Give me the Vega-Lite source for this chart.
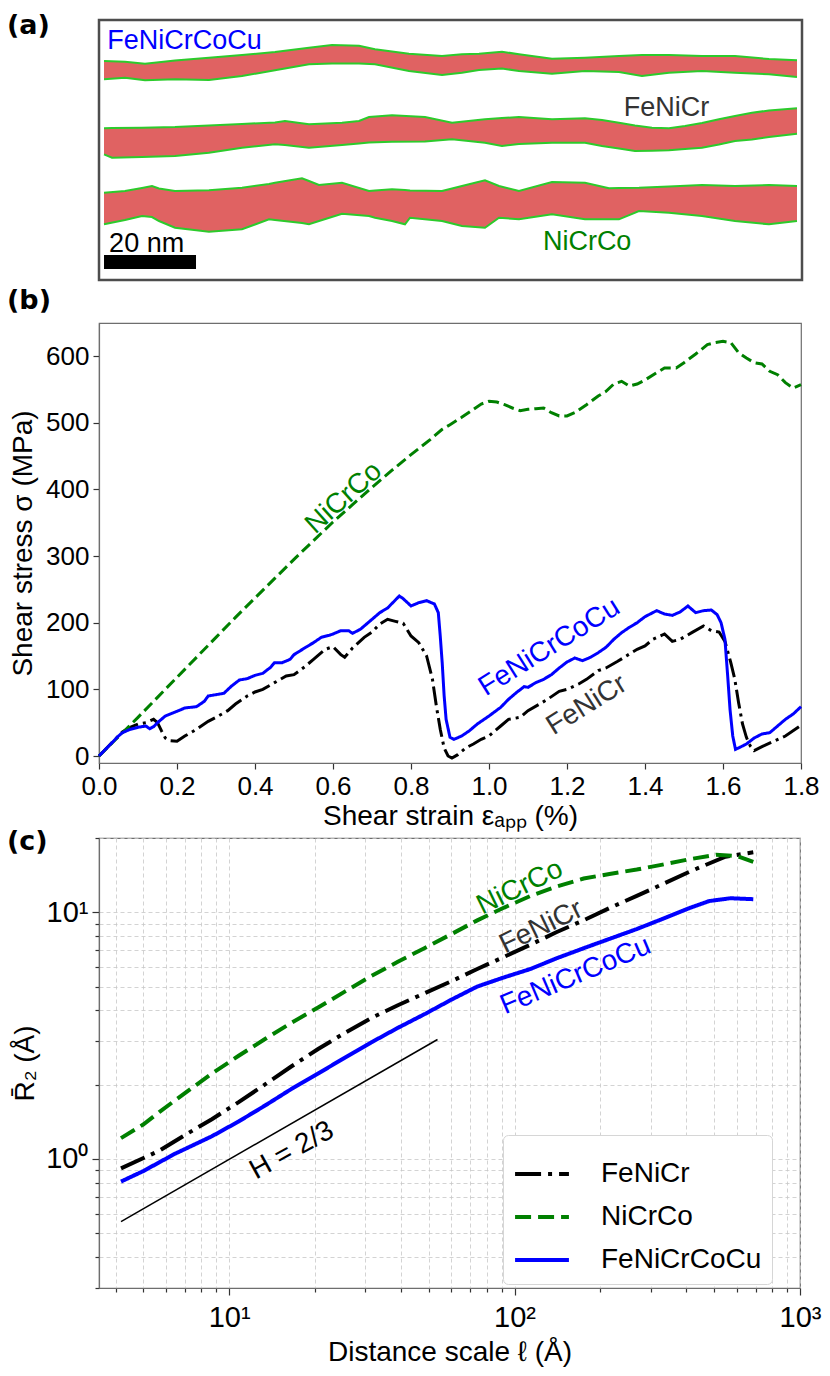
{
  "$schema": "https://vega.github.io/schema/vega-lite/v6.json",
  "background": "white",
  "padding": {"left": 5, "top": 10, "right": 5, "bottom": 5},
  "spacing": 4,
  "config": {
    "font": "Liberation Sans",
    "view": {"stroke": "#6e6e6e", "strokeWidth": 1.2},
    "axis": {"domainColor": "#6e6e6e", "domainWidth": 1.2, "tickColor": "#333333", "tickWidth": 1.2, "labelColor": "#000000", "titleColor": "#000000", "labelFont": "Liberation Sans", "titleFont": "Liberation Sans", "titleFontWeight": "normal", "labelFontSize": 26, "titleFontSize": 28, "grid": false}
  },
  "resolve": {"scale": {"color": "independent", "strokeDash": "independent", "fill": "independent"}},
  "vconcat": [
    {
      "width": 703,
      "height": 260,
      "view": {"stroke": "#4d4d4d", "strokeWidth": 2.5},
      "data": {"values": [
        {"band": "FeNiCrCoCu", "x": 1.09, "top": 8.91, "bot": 12.89},
        {"band": "FeNiCrCoCu", "x": 5.65, "top": 9.07, "bot": 12.54},
        {"band": "FeNiCrCoCu", "x": 10.0, "top": 9.5, "bot": 13.11},
        {"band": "FeNiCrCoCu", "x": 16.52, "top": 8.8, "bot": 12.89},
        {"band": "FeNiCrCoCu", "x": 23.91, "top": 8.2, "bot": 13.04},
        {"band": "FeNiCrCoCu", "x": 31.09, "top": 7.61, "bot": 12.17},
        {"band": "FeNiCrCoCu", "x": 38.26, "top": 6.96, "bot": 10.93},
        {"band": "FeNiCrCoCu", "x": 45.65, "top": 6.02, "bot": 9.63},
        {"band": "FeNiCrCoCu", "x": 50.65, "top": 5.43, "bot": 9.46},
        {"band": "FeNiCrCoCu", "x": 56.52, "top": 5.59, "bot": 9.46},
        {"band": "FeNiCrCoCu", "x": 60.0, "top": 6.37, "bot": 9.63},
        {"band": "FeNiCrCoCu", "x": 67.39, "top": 7.33, "bot": 11.09},
        {"band": "FeNiCrCoCu", "x": 74.57, "top": 7.83, "bot": 11.96},
        {"band": "FeNiCrCoCu", "x": 78.91, "top": 7.46, "bot": 11.46},
        {"band": "FeNiCrCoCu", "x": 82.61, "top": 7.33, "bot": 10.87},
        {"band": "FeNiCrCoCu", "x": 87.61, "top": 6.89, "bot": 10.54},
        {"band": "FeNiCrCoCu", "x": 91.3, "top": 7.46, "bot": 11.09},
        {"band": "FeNiCrCoCu", "x": 98.48, "top": 8.41, "bot": 11.67},
        {"band": "FeNiCrCoCu", "x": 105.65, "top": 8.2, "bot": 11.09},
        {"band": "FeNiCrCoCu", "x": 113.04, "top": 7.83, "bot": 11.3},
        {"band": "FeNiCrCoCu", "x": 118.04, "top": 7.61, "bot": 12.17},
        {"band": "FeNiCrCoCu", "x": 123.91, "top": 7.61, "bot": 11.46},
        {"band": "FeNiCrCoCu", "x": 131.09, "top": 7.83, "bot": 11.09},
        {"band": "FeNiCrCoCu", "x": 138.26, "top": 7.83, "bot": 11.46},
        {"band": "FeNiCrCoCu", "x": 145.65, "top": 8.48, "bot": 11.8},
        {"band": "FeNiCrCoCu", "x": 151.74, "top": 8.76, "bot": 12.39},
        {"band": "FeNiCr", "x": 1.09, "top": 23.54, "bot": 29.2},
        {"band": "FeNiCr", "x": 2.83, "top": 23.48, "bot": 29.93},
        {"band": "FeNiCr", "x": 9.35, "top": 23.41, "bot": 29.78},
        {"band": "FeNiCr", "x": 16.52, "top": 23.26, "bot": 29.57},
        {"band": "FeNiCr", "x": 23.91, "top": 22.93, "bot": 28.85},
        {"band": "FeNiCr", "x": 31.09, "top": 22.61, "bot": 27.76},
        {"band": "FeNiCr", "x": 38.26, "top": 22.28, "bot": 27.02},
        {"band": "FeNiCr", "x": 40.43, "top": 21.96, "bot": 27.17},
        {"band": "FeNiCr", "x": 45.65, "top": 22.67, "bot": 27.76},
        {"band": "FeNiCr", "x": 52.83, "top": 22.33, "bot": 27.17},
        {"band": "FeNiCr", "x": 56.52, "top": 21.96, "bot": 26.85},
        {"band": "FeNiCr", "x": 58.7, "top": 21.09, "bot": 26.63},
        {"band": "FeNiCr", "x": 63.7, "top": 20.72, "bot": 26.46},
        {"band": "FeNiCr", "x": 70.87, "top": 21.09, "bot": 26.41},
        {"band": "FeNiCr", "x": 76.74, "top": 22.33, "bot": 25.93},
        {"band": "FeNiCr", "x": 83.91, "top": 21.59, "bot": 26.67},
        {"band": "FeNiCr", "x": 87.61, "top": 21.3, "bot": 27.39},
        {"band": "FeNiCr", "x": 91.3, "top": 21.09, "bot": 26.96},
        {"band": "FeNiCr", "x": 98.48, "top": 21.59, "bot": 26.67},
        {"band": "FeNiCr", "x": 105.65, "top": 21.37, "bot": 26.67},
        {"band": "FeNiCr", "x": 109.35, "top": 21.74, "bot": 27.39},
        {"band": "FeNiCr", "x": 113.04, "top": 22.33, "bot": 27.93},
        {"band": "FeNiCr", "x": 116.52, "top": 22.93, "bot": 28.48},
        {"band": "FeNiCr", "x": 120.22, "top": 23.41, "bot": 28.41},
        {"band": "FeNiCr", "x": 123.91, "top": 23.54, "bot": 28.33},
        {"band": "FeNiCr", "x": 127.39, "top": 23.04, "bot": 28.04},
        {"band": "FeNiCr", "x": 131.09, "top": 22.39, "bot": 27.76},
        {"band": "FeNiCr", "x": 134.78, "top": 21.59, "bot": 27.07},
        {"band": "FeNiCr", "x": 138.26, "top": 20.87, "bot": 26.3},
        {"band": "FeNiCr", "x": 141.96, "top": 20.15, "bot": 25.98},
        {"band": "FeNiCr", "x": 145.65, "top": 19.67, "bot": 25.43},
        {"band": "FeNiCr", "x": 151.74, "top": 19.2, "bot": 24.72},
        {"band": "NiCrCo", "x": 1.09, "top": 37.54, "bot": 44.41},
        {"band": "NiCrCo", "x": 5.65, "top": 37.17, "bot": 43.48},
        {"band": "NiCrCo", "x": 9.35, "top": 36.52, "bot": 42.61},
        {"band": "NiCrCo", "x": 11.52, "top": 36.09, "bot": 42.83},
        {"band": "NiCrCo", "x": 13.04, "top": 36.63, "bot": 43.7},
        {"band": "NiCrCo", "x": 16.52, "top": 37.17, "bot": 45.15},
        {"band": "NiCrCo", "x": 23.91, "top": 37.02, "bot": 46.02},
        {"band": "NiCrCo", "x": 31.09, "top": 36.46, "bot": 45.5},
        {"band": "NiCrCo", "x": 36.96, "top": 35.65, "bot": 43.33},
        {"band": "NiCrCo", "x": 38.26, "top": 35.37, "bot": 43.48},
        {"band": "NiCrCo", "x": 44.13, "top": 34.41, "bot": 44.13},
        {"band": "NiCrCo", "x": 45.65, "top": 35.0, "bot": 44.41},
        {"band": "NiCrCo", "x": 47.83, "top": 35.87, "bot": 43.7},
        {"band": "NiCrCo", "x": 52.83, "top": 35.37, "bot": 42.11},
        {"band": "NiCrCo", "x": 58.7, "top": 37.17, "bot": 42.61},
        {"band": "NiCrCo", "x": 60.0, "top": 37.07, "bot": 42.98},
        {"band": "NiCrCo", "x": 63.7, "top": 36.8, "bot": 43.7},
        {"band": "NiCrCo", "x": 66.52, "top": 36.96, "bot": 44.41},
        {"band": "NiCrCo", "x": 67.61, "top": 37.07, "bot": 42.98},
        {"band": "NiCrCo", "x": 74.57, "top": 37.17, "bot": 43.7},
        {"band": "NiCrCo", "x": 78.91, "top": 36.09, "bot": 44.78},
        {"band": "NiCrCo", "x": 83.91, "top": 34.85, "bot": 45.15},
        {"band": "NiCrCo", "x": 86.96, "top": 36.09, "bot": 42.98},
        {"band": "NiCrCo", "x": 91.3, "top": 37.17, "bot": 43.33},
        {"band": "NiCrCo", "x": 98.48, "top": 35.22, "bot": 42.24},
        {"band": "NiCrCo", "x": 105.65, "top": 35.37, "bot": 43.33},
        {"band": "NiCrCo", "x": 110.87, "top": 36.59, "bot": 43.33},
        {"band": "NiCrCo", "x": 113.04, "top": 36.52, "bot": 43.33},
        {"band": "NiCrCo", "x": 117.39, "top": 36.46, "bot": 41.52},
        {"band": "NiCrCo", "x": 123.91, "top": 36.2, "bot": 41.89},
        {"band": "NiCrCo", "x": 131.09, "top": 35.87, "bot": 42.61},
        {"band": "NiCrCo", "x": 138.26, "top": 36.09, "bot": 43.7},
        {"band": "NiCrCo", "x": 145.65, "top": 35.87, "bot": 44.41},
        {"band": "NiCrCo", "x": 151.74, "top": 36.09, "bot": 43.7}
      ]},
      "layer": [
        {
          "mark": {"type": "area", "color": "#e06262", "opacity": 1},
          "encoding": {
            "x": {"field": "x", "type": "quantitative", "scale": {"domain": [0, 152.83], "nice": false, "zero": false}, "axis": null},
            "y": {"field": "top", "type": "quantitative", "scale": {"domain": [0, 56.52], "reverse": true, "nice": false, "zero": false}, "axis": null},
            "y2": {"field": "bot"},
            "detail": {"field": "band"}
          }
        },
        {
          "mark": {"type": "line", "color": "#2ccb2c", "strokeWidth": 2},
          "encoding": {
            "x": {"field": "x", "type": "quantitative"},
            "y": {"field": "top", "type": "quantitative"},
            "detail": {"field": "band"}
          }
        },
        {
          "mark": {"type": "line", "color": "#2ccb2c", "strokeWidth": 2},
          "encoding": {
            "x": {"field": "x", "type": "quantitative"},
            "y": {"field": "bot", "type": "quantitative"},
            "detail": {"field": "band"}
          }
        },
        {
          "data": {"values": [{"x0": 1.09, "x1": 21.09, "d0": 51.09, "d1": 54.13}]},
          "mark": {"type": "rect", "color": "#000000"},
          "encoding": {
            "x": {"field": "x0", "type": "quantitative"},
            "x2": {"field": "x1"},
            "y": {"field": "d0", "type": "quantitative"},
            "y2": {"field": "d1"}
          }
        },
        {
          "data": {"values": [{"label": "20 nm", "x": 2.2, "y": 50.4}]},
          "mark": {"type": "text", "align": "left", "baseline": "alphabetic", "fontSize": 27, "color": "#000000"},
          "encoding": {
            "x": {"field": "x", "type": "quantitative"},
            "y": {"field": "y", "type": "quantitative"},
            "text": {"field": "label"}
          }
        },
        {
          "data": {"values": [{"label": "(a)", "x": -20.0, "y": 3.04}]},
          "mark": {"type": "text", "align": "left", "baseline": "alphabetic", "fontSize": 27, "font": "DejaVu Sans", "fontWeight": "bold", "color": "#000000"},
          "encoding": {
            "x": {"field": "x", "type": "quantitative"},
            "y": {"field": "y", "type": "quantitative"},
            "text": {"field": "label"}
          }
        },
        {
          "data": {"values": [
            {"label": "FeNiCrCoCu", "x": 1.8, "y": 6.3},
            {"label": "FeNiCr", "x": 114.1, "y": 20.87},
            {"label": "NiCrCo", "x": 96.5, "y": 50.0}
          ]},
          "mark": {"type": "text", "align": "left", "baseline": "alphabetic", "fontSize": 27},
          "encoding": {
            "x": {"field": "x", "type": "quantitative"},
            "y": {"field": "y", "type": "quantitative"},
            "text": {"field": "label"},
            "fill": {"field": "label", "type": "nominal", "scale": {"domain": ["FeNiCr", "NiCrCo", "FeNiCrCoCu"], "range": ["#333333", "#008000", "#0000ff"]}, "legend": null}
          }
        }
      ]
    },
    {
      "spacing": -8,
      "resolve": {"scale": {"color": "independent", "strokeDash": "independent", "fill": "independent"}},
      "vconcat": [
        {
          "width": 702,
          "height": 440,
          "layer": [
            {
              "data": {"values": [
                {"series": "FeNiCr", "strain": 0, "stress": 0},
                {"series": "FeNiCr", "strain": 0.02, "stress": 12},
                {"series": "FeNiCr", "strain": 0.04, "stress": 24},
                {"series": "FeNiCr", "strain": 0.05, "stress": 30},
                {"series": "FeNiCr", "strain": 0.06, "stress": 36},
                {"series": "FeNiCr", "strain": 0.08, "stress": 43},
                {"series": "FeNiCr", "strain": 0.1, "stress": 48},
                {"series": "FeNiCr", "strain": 0.12, "stress": 50},
                {"series": "FeNiCr", "strain": 0.14, "stress": 55},
                {"series": "FeNiCr", "strain": 0.15, "stress": 50},
                {"series": "FeNiCr", "strain": 0.16, "stress": 38},
                {"series": "FeNiCr", "strain": 0.17, "stress": 27},
                {"series": "FeNiCr", "strain": 0.18, "stress": 23},
                {"series": "FeNiCr", "strain": 0.2, "stress": 22},
                {"series": "FeNiCr", "strain": 0.22, "stress": 30},
                {"series": "FeNiCr", "strain": 0.25, "stress": 40},
                {"series": "FeNiCr", "strain": 0.28, "stress": 52},
                {"series": "FeNiCr", "strain": 0.3, "stress": 58},
                {"series": "FeNiCr", "strain": 0.33, "stress": 68},
                {"series": "FeNiCr", "strain": 0.35, "stress": 78},
                {"series": "FeNiCr", "strain": 0.38, "stress": 90},
                {"series": "FeNiCr", "strain": 0.4, "stress": 96},
                {"series": "FeNiCr", "strain": 0.42, "stress": 100},
                {"series": "FeNiCr", "strain": 0.45, "stress": 110},
                {"series": "FeNiCr", "strain": 0.48, "stress": 120},
                {"series": "FeNiCr", "strain": 0.5, "stress": 122},
                {"series": "FeNiCr", "strain": 0.53, "stress": 135},
                {"series": "FeNiCr", "strain": 0.55, "stress": 145},
                {"series": "FeNiCr", "strain": 0.58, "stress": 160},
                {"series": "FeNiCr", "strain": 0.6, "stress": 164},
                {"series": "FeNiCr", "strain": 0.62, "stress": 152},
                {"series": "FeNiCr", "strain": 0.63, "stress": 148},
                {"series": "FeNiCr", "strain": 0.65, "stress": 162},
                {"series": "FeNiCr", "strain": 0.68, "stress": 178},
                {"series": "FeNiCr", "strain": 0.7, "stress": 186},
                {"series": "FeNiCr", "strain": 0.72, "stress": 198},
                {"series": "FeNiCr", "strain": 0.74, "stress": 205},
                {"series": "FeNiCr", "strain": 0.76, "stress": 202},
                {"series": "FeNiCr", "strain": 0.78, "stress": 199},
                {"series": "FeNiCr", "strain": 0.8, "stress": 180},
                {"series": "FeNiCr", "strain": 0.82, "stress": 170},
                {"series": "FeNiCr", "strain": 0.84, "stress": 150},
                {"series": "FeNiCr", "strain": 0.855, "stress": 115},
                {"series": "FeNiCr", "strain": 0.865, "stress": 75},
                {"series": "FeNiCr", "strain": 0.875, "stress": 40},
                {"series": "FeNiCr", "strain": 0.885, "stress": 12},
                {"series": "FeNiCr", "strain": 0.895, "stress": 0},
                {"series": "FeNiCr", "strain": 0.905, "stress": -3},
                {"series": "FeNiCr", "strain": 0.92, "stress": 2},
                {"series": "FeNiCr", "strain": 0.94, "stress": 12},
                {"series": "FeNiCr", "strain": 0.96, "stress": 18},
                {"series": "FeNiCr", "strain": 0.98, "stress": 25},
                {"series": "FeNiCr", "strain": 1.0, "stress": 30},
                {"series": "FeNiCr", "strain": 1.03, "stress": 45},
                {"series": "FeNiCr", "strain": 1.05, "stress": 55},
                {"series": "FeNiCr", "strain": 1.08, "stress": 58},
                {"series": "FeNiCr", "strain": 1.1, "stress": 68},
                {"series": "FeNiCr", "strain": 1.13, "stress": 78},
                {"series": "FeNiCr", "strain": 1.15, "stress": 85},
                {"series": "FeNiCr", "strain": 1.18, "stress": 97},
                {"series": "FeNiCr", "strain": 1.2, "stress": 100},
                {"series": "FeNiCr", "strain": 1.23, "stress": 108},
                {"series": "FeNiCr", "strain": 1.25, "stress": 115},
                {"series": "FeNiCr", "strain": 1.28, "stress": 128},
                {"series": "FeNiCr", "strain": 1.3, "stress": 132},
                {"series": "FeNiCr", "strain": 1.33, "stress": 142},
                {"series": "FeNiCr", "strain": 1.36, "stress": 153},
                {"series": "FeNiCr", "strain": 1.38, "stress": 160},
                {"series": "FeNiCr", "strain": 1.4, "stress": 165},
                {"series": "FeNiCr", "strain": 1.42, "stress": 175},
                {"series": "FeNiCr", "strain": 1.45, "stress": 183},
                {"series": "FeNiCr", "strain": 1.47, "stress": 172},
                {"series": "FeNiCr", "strain": 1.49, "stress": 175},
                {"series": "FeNiCr", "strain": 1.52, "stress": 185},
                {"series": "FeNiCr", "strain": 1.55, "stress": 195},
                {"series": "FeNiCr", "strain": 1.57, "stress": 188},
                {"series": "FeNiCr", "strain": 1.59, "stress": 186},
                {"series": "FeNiCr", "strain": 1.605, "stress": 172},
                {"series": "FeNiCr", "strain": 1.62, "stress": 140},
                {"series": "FeNiCr", "strain": 1.63, "stress": 116},
                {"series": "FeNiCr", "strain": 1.64, "stress": 80},
                {"series": "FeNiCr", "strain": 1.65, "stress": 48},
                {"series": "FeNiCr", "strain": 1.66, "stress": 28},
                {"series": "FeNiCr", "strain": 1.67, "stress": 15},
                {"series": "FeNiCr", "strain": 1.68, "stress": 8},
                {"series": "FeNiCr", "strain": 1.7, "stress": 14},
                {"series": "FeNiCr", "strain": 1.73, "stress": 22},
                {"series": "FeNiCr", "strain": 1.76, "stress": 30},
                {"series": "FeNiCr", "strain": 1.8, "stress": 46},
                {"series": "NiCrCo", "strain": 0, "stress": 0},
                {"series": "NiCrCo", "strain": 0.05, "stress": 29},
                {"series": "NiCrCo", "strain": 0.1, "stress": 58},
                {"series": "NiCrCo", "strain": 0.15, "stress": 88},
                {"series": "NiCrCo", "strain": 0.2, "stress": 118},
                {"series": "NiCrCo", "strain": 0.25, "stress": 148},
                {"series": "NiCrCo", "strain": 0.3, "stress": 178},
                {"series": "NiCrCo", "strain": 0.35, "stress": 208},
                {"series": "NiCrCo", "strain": 0.4, "stress": 237},
                {"series": "NiCrCo", "strain": 0.45, "stress": 266},
                {"series": "NiCrCo", "strain": 0.5, "stress": 295},
                {"series": "NiCrCo", "strain": 0.55, "stress": 323},
                {"series": "NiCrCo", "strain": 0.6, "stress": 351},
                {"series": "NiCrCo", "strain": 0.65, "stress": 377},
                {"series": "NiCrCo", "strain": 0.7, "stress": 403},
                {"series": "NiCrCo", "strain": 0.75, "stress": 428},
                {"series": "NiCrCo", "strain": 0.8, "stress": 452},
                {"series": "NiCrCo", "strain": 0.85, "stress": 475},
                {"series": "NiCrCo", "strain": 0.88, "stress": 490},
                {"series": "NiCrCo", "strain": 0.9, "stress": 497},
                {"series": "NiCrCo", "strain": 0.93, "stress": 508},
                {"series": "NiCrCo", "strain": 0.96, "stress": 520},
                {"series": "NiCrCo", "strain": 0.98, "stress": 528},
                {"series": "NiCrCo", "strain": 1.0, "stress": 532},
                {"series": "NiCrCo", "strain": 1.02, "stress": 531},
                {"series": "NiCrCo", "strain": 1.04, "stress": 527},
                {"series": "NiCrCo", "strain": 1.06, "stress": 522},
                {"series": "NiCrCo", "strain": 1.08, "stress": 518},
                {"series": "NiCrCo", "strain": 1.1, "stress": 520},
                {"series": "NiCrCo", "strain": 1.12, "stress": 521},
                {"series": "NiCrCo", "strain": 1.14, "stress": 522},
                {"series": "NiCrCo", "strain": 1.16, "stress": 515},
                {"series": "NiCrCo", "strain": 1.18, "stress": 510},
                {"series": "NiCrCo", "strain": 1.2, "stress": 510},
                {"series": "NiCrCo", "strain": 1.22, "stress": 515},
                {"series": "NiCrCo", "strain": 1.25, "stress": 527},
                {"series": "NiCrCo", "strain": 1.28, "stress": 540},
                {"series": "NiCrCo", "strain": 1.3, "stress": 547},
                {"series": "NiCrCo", "strain": 1.32, "stress": 558},
                {"series": "NiCrCo", "strain": 1.34, "stress": 562},
                {"series": "NiCrCo", "strain": 1.36, "stress": 555},
                {"series": "NiCrCo", "strain": 1.38, "stress": 558},
                {"series": "NiCrCo", "strain": 1.4, "stress": 564},
                {"series": "NiCrCo", "strain": 1.43, "stress": 575},
                {"series": "NiCrCo", "strain": 1.45, "stress": 582},
                {"series": "NiCrCo", "strain": 1.48, "stress": 582},
                {"series": "NiCrCo", "strain": 1.5, "stress": 590},
                {"series": "NiCrCo", "strain": 1.53, "stress": 603},
                {"series": "NiCrCo", "strain": 1.56, "stress": 617},
                {"series": "NiCrCo", "strain": 1.58, "stress": 620},
                {"series": "NiCrCo", "strain": 1.6, "stress": 622},
                {"series": "NiCrCo", "strain": 1.62, "stress": 620},
                {"series": "NiCrCo", "strain": 1.64, "stress": 605},
                {"series": "NiCrCo", "strain": 1.66, "stress": 597},
                {"series": "NiCrCo", "strain": 1.68, "stress": 590},
                {"series": "NiCrCo", "strain": 1.7, "stress": 588},
                {"series": "NiCrCo", "strain": 1.72, "stress": 577},
                {"series": "NiCrCo", "strain": 1.74, "stress": 572},
                {"series": "NiCrCo", "strain": 1.76, "stress": 560},
                {"series": "NiCrCo", "strain": 1.78, "stress": 552},
                {"series": "NiCrCo", "strain": 1.8, "stress": 557},
                {"series": "FeNiCrCoCu", "strain": 0, "stress": 0},
                {"series": "FeNiCrCoCu", "strain": 0.02, "stress": 12},
                {"series": "FeNiCrCoCu", "strain": 0.04, "stress": 24},
                {"series": "FeNiCrCoCu", "strain": 0.05, "stress": 30},
                {"series": "FeNiCrCoCu", "strain": 0.06, "stress": 35},
                {"series": "FeNiCrCoCu", "strain": 0.08, "stress": 40},
                {"series": "FeNiCrCoCu", "strain": 0.1, "stress": 43},
                {"series": "FeNiCrCoCu", "strain": 0.12, "stress": 45},
                {"series": "FeNiCrCoCu", "strain": 0.13, "stress": 41},
                {"series": "FeNiCrCoCu", "strain": 0.14, "stress": 44},
                {"series": "FeNiCrCoCu", "strain": 0.15, "stress": 50},
                {"series": "FeNiCrCoCu", "strain": 0.17, "stress": 60},
                {"series": "FeNiCrCoCu", "strain": 0.2, "stress": 67},
                {"series": "FeNiCrCoCu", "strain": 0.22, "stress": 72},
                {"series": "FeNiCrCoCu", "strain": 0.25, "stress": 74},
                {"series": "FeNiCrCoCu", "strain": 0.27, "stress": 82},
                {"series": "FeNiCrCoCu", "strain": 0.28, "stress": 90},
                {"series": "FeNiCrCoCu", "strain": 0.3, "stress": 92},
                {"series": "FeNiCrCoCu", "strain": 0.32, "stress": 94},
                {"series": "FeNiCrCoCu", "strain": 0.34, "stress": 105},
                {"series": "FeNiCrCoCu", "strain": 0.36, "stress": 114},
                {"series": "FeNiCrCoCu", "strain": 0.38, "stress": 116},
                {"series": "FeNiCrCoCu", "strain": 0.4, "stress": 121},
                {"series": "FeNiCrCoCu", "strain": 0.42, "stress": 124},
                {"series": "FeNiCrCoCu", "strain": 0.44, "stress": 133},
                {"series": "FeNiCrCoCu", "strain": 0.45, "stress": 140},
                {"series": "FeNiCrCoCu", "strain": 0.47, "stress": 140},
                {"series": "FeNiCrCoCu", "strain": 0.49, "stress": 145},
                {"series": "FeNiCrCoCu", "strain": 0.5, "stress": 152},
                {"series": "FeNiCrCoCu", "strain": 0.53, "stress": 163},
                {"series": "FeNiCrCoCu", "strain": 0.55, "stress": 170},
                {"series": "FeNiCrCoCu", "strain": 0.57, "stress": 178},
                {"series": "FeNiCrCoCu", "strain": 0.59, "stress": 181},
                {"series": "FeNiCrCoCu", "strain": 0.6, "stress": 183},
                {"series": "FeNiCrCoCu", "strain": 0.62, "stress": 188},
                {"series": "FeNiCrCoCu", "strain": 0.64, "stress": 188},
                {"series": "FeNiCrCoCu", "strain": 0.65, "stress": 184},
                {"series": "FeNiCrCoCu", "strain": 0.67, "stress": 190},
                {"series": "FeNiCrCoCu", "strain": 0.7, "stress": 205},
                {"series": "FeNiCrCoCu", "strain": 0.72, "stress": 215},
                {"series": "FeNiCrCoCu", "strain": 0.74, "stress": 222},
                {"series": "FeNiCrCoCu", "strain": 0.76, "stress": 234},
                {"series": "FeNiCrCoCu", "strain": 0.77, "stress": 240},
                {"series": "FeNiCrCoCu", "strain": 0.78, "stress": 236},
                {"series": "FeNiCrCoCu", "strain": 0.8, "stress": 225},
                {"series": "FeNiCrCoCu", "strain": 0.82, "stress": 230},
                {"series": "FeNiCrCoCu", "strain": 0.84, "stress": 233},
                {"series": "FeNiCrCoCu", "strain": 0.86, "stress": 228},
                {"series": "FeNiCrCoCu", "strain": 0.87, "stress": 215},
                {"series": "FeNiCrCoCu", "strain": 0.875, "stress": 180},
                {"series": "FeNiCrCoCu", "strain": 0.88, "stress": 140},
                {"series": "FeNiCrCoCu", "strain": 0.885, "stress": 90},
                {"series": "FeNiCrCoCu", "strain": 0.89, "stress": 55},
                {"series": "FeNiCrCoCu", "strain": 0.9, "stress": 28},
                {"series": "FeNiCrCoCu", "strain": 0.91, "stress": 25},
                {"series": "FeNiCrCoCu", "strain": 0.93, "stress": 30},
                {"series": "FeNiCrCoCu", "strain": 0.95, "stress": 38},
                {"series": "FeNiCrCoCu", "strain": 0.97, "stress": 48},
                {"series": "FeNiCrCoCu", "strain": 1.0, "stress": 60},
                {"series": "FeNiCrCoCu", "strain": 1.03, "stress": 73},
                {"series": "FeNiCrCoCu", "strain": 1.05, "stress": 85},
                {"series": "FeNiCrCoCu", "strain": 1.07, "stress": 95},
                {"series": "FeNiCrCoCu", "strain": 1.09, "stress": 104},
                {"series": "FeNiCrCoCu", "strain": 1.1, "stress": 103},
                {"series": "FeNiCrCoCu", "strain": 1.12, "stress": 110},
                {"series": "FeNiCrCoCu", "strain": 1.14, "stress": 115},
                {"series": "FeNiCrCoCu", "strain": 1.16, "stress": 122},
                {"series": "FeNiCrCoCu", "strain": 1.18, "stress": 132},
                {"series": "FeNiCrCoCu", "strain": 1.2, "stress": 141},
                {"series": "FeNiCrCoCu", "strain": 1.22, "stress": 147},
                {"series": "FeNiCrCoCu", "strain": 1.24, "stress": 143},
                {"series": "FeNiCrCoCu", "strain": 1.26, "stress": 148},
                {"series": "FeNiCrCoCu", "strain": 1.28, "stress": 155},
                {"series": "FeNiCrCoCu", "strain": 1.3, "stress": 163},
                {"series": "FeNiCrCoCu", "strain": 1.32, "stress": 175},
                {"series": "FeNiCrCoCu", "strain": 1.34, "stress": 185},
                {"series": "FeNiCrCoCu", "strain": 1.36, "stress": 193},
                {"series": "FeNiCrCoCu", "strain": 1.38, "stress": 200},
                {"series": "FeNiCrCoCu", "strain": 1.4, "stress": 209},
                {"series": "FeNiCrCoCu", "strain": 1.42, "stress": 215},
                {"series": "FeNiCrCoCu", "strain": 1.43, "stress": 218},
                {"series": "FeNiCrCoCu", "strain": 1.45, "stress": 213},
                {"series": "FeNiCrCoCu", "strain": 1.47, "stress": 211},
                {"series": "FeNiCrCoCu", "strain": 1.49, "stress": 216},
                {"series": "FeNiCrCoCu", "strain": 1.51, "stress": 225},
                {"series": "FeNiCrCoCu", "strain": 1.53, "stress": 215},
                {"series": "FeNiCrCoCu", "strain": 1.55, "stress": 218},
                {"series": "FeNiCrCoCu", "strain": 1.57, "stress": 219},
                {"series": "FeNiCrCoCu", "strain": 1.585, "stress": 212},
                {"series": "FeNiCrCoCu", "strain": 1.595, "stress": 200},
                {"series": "FeNiCrCoCu", "strain": 1.605, "stress": 175},
                {"series": "FeNiCrCoCu", "strain": 1.612, "stress": 120},
                {"series": "FeNiCrCoCu", "strain": 1.618, "stress": 70},
                {"series": "FeNiCrCoCu", "strain": 1.625, "stress": 30},
                {"series": "FeNiCrCoCu", "strain": 1.632, "stress": 10},
                {"series": "FeNiCrCoCu", "strain": 1.64, "stress": 12},
                {"series": "FeNiCrCoCu", "strain": 1.66, "stress": 18},
                {"series": "FeNiCrCoCu", "strain": 1.68, "stress": 27},
                {"series": "FeNiCrCoCu", "strain": 1.7, "stress": 33},
                {"series": "FeNiCrCoCu", "strain": 1.72, "stress": 35},
                {"series": "FeNiCrCoCu", "strain": 1.74, "stress": 45},
                {"series": "FeNiCrCoCu", "strain": 1.76, "stress": 55},
                {"series": "FeNiCrCoCu", "strain": 1.78, "stress": 63},
                {"series": "FeNiCrCoCu", "strain": 1.8, "stress": 74}
              ]},
              "mark": {"type": "line", "strokeWidth": 3},
              "encoding": {
                "x": {"field": "strain", "type": "quantitative", "scale": {"domain": [0, 1.8], "nice": false, "zero": false},
                      "axis": {"title": "Shear strain  εₐₚₚ (%)", "values": [0, 0.2, 0.4, 0.6, 0.8, 1.0, 1.2, 1.4, 1.6, 1.8], "format": ".1f", "tickSize": 6, "labelPadding": 4, "titlePadding": 3, "labelFlush": false, "labelOverlap": false}},
                "y": {"field": "stress", "type": "quantitative", "scale": {"domain": [-10.5, 649.5], "nice": false, "zero": false},
                      "axis": {"title": "Shear stress σ (MPa)", "values": [0, 100, 200, 300, 400, 500, 600], "tickSize": 6, "labelPadding": 4, "titlePadding": 8, "labelFlush": false, "labelOverlap": false}},
                "color": {"field": "series", "type": "nominal", "scale": {"domain": ["FeNiCr", "NiCrCo", "FeNiCrCoCu"], "range": ["#000000", "#008000", "#0000ff"]}, "legend": null},
                "strokeDash": {"field": "series", "type": "nominal", "scale": {"domain": ["FeNiCr", "NiCrCo", "FeNiCrCoCu"], "range": [[19, 5, 3, 5], [11, 5], [1, 0]]}, "legend": null}
              }
            },
            {
              "data": {"values": [{"label": "(b)", "strain": -0.2359, "stress": 670.5}]},
              "mark": {"type": "text", "align": "left", "baseline": "alphabetic", "fontSize": 27, "font": "DejaVu Sans", "fontWeight": "bold", "color": "#000000"},
              "encoding": {"x": {"field": "strain", "type": "quantitative"}, "y": {"field": "stress", "type": "quantitative"}, "text": {"field": "label"}}
            },
            {
              "data": {"values": [{"label": "NiCrCo", "strain": 0.628, "stress": 387}]},
              "mark": {"type": "text", "angle": -42, "fontSize": 28, "color": "#008000", "align": "center", "baseline": "middle"},
              "encoding": {"x": {"field": "strain", "type": "quantitative"}, "y": {"field": "stress", "type": "quantitative"}, "text": {"field": "label"}}
            },
            {
              "data": {"values": [{"label": "FeNiCrCoCu", "strain": 1.155, "stress": 163}]},
              "mark": {"type": "text", "angle": -32, "fontSize": 28, "color": "#0000ff", "align": "center", "baseline": "middle"},
              "encoding": {"x": {"field": "strain", "type": "quantitative"}, "y": {"field": "stress", "type": "quantitative"}, "text": {"field": "label"}}
            },
            {
              "data": {"values": [{"label": "FeNiCr", "strain": 1.251, "stress": 76}]},
              "mark": {"type": "text", "angle": -32, "fontSize": 28, "color": "#333333", "align": "center", "baseline": "middle"},
              "encoding": {"x": {"field": "strain", "type": "quantitative"}, "y": {"field": "stress", "type": "quantitative"}, "text": {"field": "label"}}
            }
          ]
        },
        {
          "width": 701,
          "height": 450,
          "layer": [
            {
              "data": {"values": [
                {"series": "FeNiCr", "l": 4.18, "R": 0.916},
                {"series": "FeNiCr", "l": 5.69, "R": 1.08},
                {"series": "FeNiCr", "l": 7, "R": 1.25},
                {"series": "FeNiCr", "l": 8.7, "R": 1.45},
                {"series": "FeNiCr", "l": 10.8, "R": 1.7},
                {"series": "FeNiCr", "l": 13.4, "R": 2.01},
                {"series": "FeNiCr", "l": 16.5, "R": 2.37},
                {"series": "FeNiCr", "l": 20.5, "R": 2.79},
                {"series": "FeNiCr", "l": 25.5, "R": 3.25},
                {"series": "FeNiCr", "l": 31.5, "R": 3.73},
                {"series": "FeNiCr", "l": 39, "R": 4.2},
                {"series": "FeNiCr", "l": 48.3, "R": 4.69},
                {"series": "FeNiCr", "l": 60, "R": 5.25},
                {"series": "FeNiCr", "l": 74, "R": 5.89},
                {"series": "FeNiCr", "l": 92, "R": 6.6},
                {"series": "FeNiCr", "l": 113.7, "R": 7.39},
                {"series": "FeNiCr", "l": 140, "R": 8.3},
                {"series": "FeNiCr", "l": 174.6, "R": 9.28},
                {"series": "FeNiCr", "l": 215, "R": 10.4},
                {"series": "FeNiCr", "l": 268, "R": 11.65},
                {"series": "FeNiCr", "l": 330, "R": 13.0},
                {"series": "FeNiCr", "l": 410, "R": 14.6},
                {"series": "FeNiCr", "l": 548, "R": 16.8},
                {"series": "FeNiCr", "l": 686, "R": 17.5},
                {"series": "NiCrCo", "l": 4.18, "R": 1.215},
                {"series": "NiCrCo", "l": 5.0, "R": 1.38},
                {"series": "NiCrCo", "l": 5.69, "R": 1.55},
                {"series": "NiCrCo", "l": 7, "R": 1.85},
                {"series": "NiCrCo", "l": 8.7, "R": 2.22},
                {"series": "NiCrCo", "l": 10.8, "R": 2.62},
                {"series": "NiCrCo", "l": 13.4, "R": 3.07},
                {"series": "NiCrCo", "l": 16.5, "R": 3.56},
                {"series": "NiCrCo", "l": 20.5, "R": 4.11},
                {"series": "NiCrCo", "l": 25.5, "R": 4.78},
                {"series": "NiCrCo", "l": 31.5, "R": 5.52},
                {"series": "NiCrCo", "l": 39, "R": 6.3},
                {"series": "NiCrCo", "l": 48.3, "R": 7.15},
                {"series": "NiCrCo", "l": 60, "R": 8.15},
                {"series": "NiCrCo", "l": 74, "R": 9.27},
                {"series": "NiCrCo", "l": 92, "R": 10.45},
                {"series": "NiCrCo", "l": 113.7, "R": 11.65},
                {"series": "NiCrCo", "l": 140, "R": 12.7},
                {"series": "NiCrCo", "l": 174.6, "R": 13.7},
                {"series": "NiCrCo", "l": 215, "R": 14.3},
                {"series": "NiCrCo", "l": 268, "R": 14.9},
                {"series": "NiCrCo", "l": 330, "R": 15.6},
                {"series": "NiCrCo", "l": 410, "R": 16.4},
                {"series": "NiCrCo", "l": 508, "R": 17.1},
                {"series": "NiCrCo", "l": 603, "R": 16.9},
                {"series": "NiCrCo", "l": 686, "R": 16.0},
                {"series": "FeNiCrCoCu", "l": 4.18, "R": 0.81},
                {"series": "FeNiCrCoCu", "l": 5.0, "R": 0.893},
                {"series": "FeNiCrCoCu", "l": 6.46, "R": 1.05},
                {"series": "FeNiCrCoCu", "l": 8.7, "R": 1.236},
                {"series": "FeNiCrCoCu", "l": 10.8, "R": 1.42},
                {"series": "FeNiCrCoCu", "l": 13.4, "R": 1.65},
                {"series": "FeNiCrCoCu", "l": 16.5, "R": 1.92},
                {"series": "FeNiCrCoCu", "l": 20.5, "R": 2.22},
                {"series": "FeNiCrCoCu", "l": 25.5, "R": 2.58},
                {"series": "FeNiCrCoCu", "l": 31.5, "R": 2.97},
                {"series": "FeNiCrCoCu", "l": 39, "R": 3.4},
                {"series": "FeNiCrCoCu", "l": 48.3, "R": 3.86},
                {"series": "FeNiCrCoCu", "l": 60, "R": 4.42},
                {"series": "FeNiCrCoCu", "l": 74, "R": 5.0},
                {"series": "FeNiCrCoCu", "l": 92, "R": 5.45},
                {"series": "FeNiCrCoCu", "l": 113.7, "R": 5.89},
                {"series": "FeNiCrCoCu", "l": 140, "R": 6.5},
                {"series": "FeNiCrCoCu", "l": 174.6, "R": 7.15},
                {"series": "FeNiCrCoCu", "l": 215, "R": 7.8},
                {"series": "FeNiCrCoCu", "l": 268, "R": 8.55},
                {"series": "FeNiCrCoCu", "l": 330, "R": 9.4},
                {"series": "FeNiCrCoCu", "l": 410, "R": 10.4},
                {"series": "FeNiCrCoCu", "l": 480, "R": 11.1},
                {"series": "FeNiCrCoCu", "l": 570, "R": 11.4},
                {"series": "FeNiCrCoCu", "l": 686, "R": 11.3}
              ]},
              "mark": {"type": "line", "strokeWidth": 4},
              "encoding": {
                "x": {"field": "l", "type": "quantitative", "scale": {"type": "log", "domain": [3.5, 1000], "nice": false},
                      "axis": {"title": "Distance scale ℓ (Å)", "grid": true, "gridDash": [4, 3], "gridColor": "#c8c8c8", "gridWidth": 0.8,
                               "values": [4, 5, 6, 7, 8, 9, 10, 20, 30, 40, 50, 60, 70, 80, 90, 100, 200, 300, 400, 500, 600, 700, 800, 900, 1000],
                               "labelExpr": "datum.value == 10 ? '10¹' : datum.value == 100 ? '10²' : datum.value == 1000 ? '10³' : ''",
                               "tickSize": {"condition": {"test": "datum.value == 10 || datum.value == 100 || datum.value == 1000", "value": 7}, "value": 4},
                               "labelFontSize": 29, "labelPadding": 8, "titlePadding": 6, "labelFlush": false, "labelOverlap": false}},
                "y": {"field": "R", "type": "quantitative", "scale": {"type": "log", "domain": [0.3, 20], "nice": false},
                      "axis": {"title": "R̄₂ (Å)", "grid": true, "gridDash": [4, 3], "gridColor": "#c8c8c8", "gridWidth": 0.8,
                               "values": [0.3, 0.4, 0.5, 0.6, 0.7, 0.8, 0.9, 1, 2, 3, 4, 5, 6, 7, 8, 9, 10, 20],
                               "labelExpr": "datum.value == 1 ? '10⁰' : datum.value == 10 ? '10¹' : ''",
                               "tickSize": {"condition": {"test": "datum.value == 1 || datum.value == 10", "value": 7}, "value": 4},
                               "labelFontSize": 29, "labelPadding": 4, "titlePadding": 6, "labelFlush": false, "labelOverlap": false}},
                "color": {"field": "series", "type": "nominal", "scale": {"domain": ["FeNiCr", "NiCrCo", "FeNiCrCoCu"], "range": ["#000000", "#008000", "#0000ff"]},
                          "legend": {"orient": "none", "legendX": 404, "legendY": 297, "title": null, "labelFontSize": 28, "labelFont": "Liberation Sans", "labelLimit": 400, "symbolType": "stroke", "symbolStrokeWidth": 4, "symbolSize": 2900, "labelOffset": 30, "padding": 10, "rowPadding": 0, "cornerRadius": 5, "strokeColor": "#d6d6d6", "fillColor": "#ffffff"}},
                "strokeDash": {"field": "series", "type": "nominal", "scale": {"domain": ["FeNiCr", "NiCrCo", "FeNiCrCoCu"], "range": [[26, 7, 4, 7], [16, 7], [1, 0]]},
                          "legend": {"orient": "none", "legendX": 404, "legendY": 297, "title": null, "labelFontSize": 28, "labelFont": "Liberation Sans", "labelLimit": 400, "symbolType": "stroke", "symbolStrokeWidth": 4, "symbolSize": 2900, "labelOffset": 30, "padding": 10, "rowPadding": 0, "cornerRadius": 5, "strokeColor": "#d6d6d6", "fillColor": "#ffffff"}}
              }
            },
            {
              "data": {"values": [{"l": 4.18, "R": 0.557}, {"l": 53.7, "R": 3.05}]},
              "mark": {"type": "line", "color": "#000000", "strokeWidth": 1.5},
              "encoding": {"x": {"field": "l", "type": "quantitative"}, "y": {"field": "R", "type": "quantitative"}}
            },
            {
              "data": {"values": [{"label": "(c)", "l": 1.666, "R": 17.88}]},
              "mark": {"type": "text", "align": "left", "baseline": "alphabetic", "fontSize": 27, "font": "DejaVu Sans", "fontWeight": "bold", "color": "#000000"},
              "encoding": {"x": {"field": "l", "type": "quantitative"}, "y": {"field": "R", "type": "quantitative"}, "text": {"field": "label"}}
            },
            {
              "data": {"values": [{"label": "H = 2/3", "l": 16.6, "R": 1.08}]},
              "mark": {"type": "text", "angle": -29, "fontSize": 28, "color": "#000000", "align": "center", "baseline": "middle"},
              "encoding": {"x": {"field": "l", "type": "quantitative"}, "y": {"field": "R", "type": "quantitative"}, "text": {"field": "label"}}
            },
            {
              "data": {"values": [{"label": "NiCrCo", "l": 104.5, "R": 12.6}]},
              "mark": {"type": "text", "angle": -26, "fontSize": 28, "color": "#008000", "align": "center", "baseline": "middle"},
              "encoding": {"x": {"field": "l", "type": "quantitative"}, "y": {"field": "R", "type": "quantitative"}, "text": {"field": "label"}}
            },
            {
              "data": {"values": [{"label": "FeNiCr", "l": 124, "R": 8.7}]},
              "mark": {"type": "text", "angle": -26, "fontSize": 28, "color": "#333333", "align": "center", "baseline": "middle"},
              "encoding": {"x": {"field": "l", "type": "quantitative"}, "y": {"field": "R", "type": "quantitative"}, "text": {"field": "label"}}
            },
            {
              "data": {"values": [{"label": "FeNiCrCoCu", "l": 163.7, "R": 5.52}]},
              "mark": {"type": "text", "angle": -23, "fontSize": 28, "color": "#0000ff", "align": "center", "baseline": "middle"},
              "encoding": {"x": {"field": "l", "type": "quantitative"}, "y": {"field": "R", "type": "quantitative"}, "text": {"field": "label"}}
            }
          ]
        }
      ]
    }
  ]
}
